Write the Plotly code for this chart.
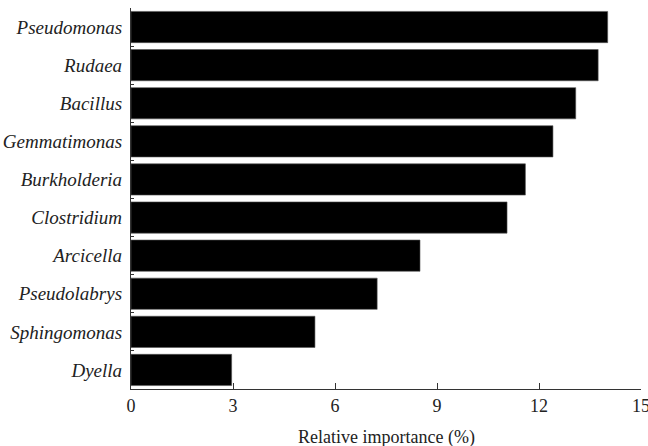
import plotly.graph_objects as go

genera = ["Pseudomonas", "Rudaea", "Bacillus", "Gemmatimonas", "Burkholderia",
          "Clostridium", "Arcicella", "Pseudolabrys", "Sphingomonas", "Dyella"]
importance = [14.02, 13.74, 13.08, 12.41, 11.6, 11.06, 8.5, 7.24, 5.41, 2.96]
x_ticks = [0, 3, 6, 9, 12, 15]

fig = go.Figure(go.Bar(
    x=importance, y=genera, orientation="h",
    marker=dict(color="black", line=dict(color="#555555", width=0.6)),
))

font = "Liberation Serif, Times New Roman, serif"
fig.update_layout(
    width=648, height=446,
    margin=dict(l=131, r=7, t=8, b=57),
    plot_bgcolor="white", paper_bgcolor="white",
    bargap=0.18,
    showlegend=False,
    font=dict(family=font, size=15, color="#222222"),
    annotations=[dict(
        text="Relative importance (%)", xref="paper", yref="paper",
        x=0.5, y=-0.126, xanchor="center", yanchor="middle", showarrow=False,
        font=dict(family=font, size=18, color="#222222"),
    )],
)
fig.update_xaxes(
    range=[0, 15], tickvals=x_ticks, ticktext=[str(v) for v in x_ticks],
    showline=True, linecolor="#333333", linewidth=1.2,
    ticks="inside", ticklen=6, tickcolor="#333333", tickwidth=1.2,
    showgrid=False, zeroline=False, automargin=False,
    ticklabeloverflow="allow",
    tickfont=dict(family=font, size=18, color="#222222"),
)
fig.update_yaxes(
    categoryorder="array", categoryarray=genera[::-1],
    showline=True, linecolor="#333333", linewidth=1.2,
    ticks="inside", ticklen=3, tickcolor="#333333", tickson="boundaries",
    showgrid=False, zeroline=False, automargin=False,
    tickfont=dict(family=font, size=19, color="#222222", style="italic"),
    ticklabelstandoff=4,
)
fig.write_html("out.html", config={"displayModeBar": False},
               post_script="document.body.style.margin='0';document.body.style.overflow='hidden';")
